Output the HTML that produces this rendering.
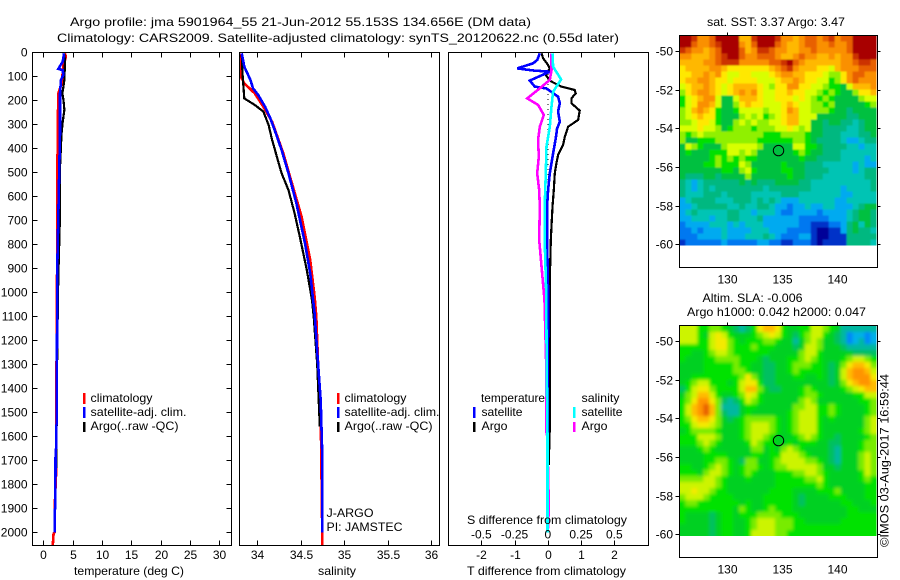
<!DOCTYPE html>
<html lang="en">
<head>
<meta charset="utf-8">
<title>Argo profile jma 5901964_55</title>
<style>
html,body{margin:0;padding:0;background:#fff;}
#figure{display:block;position:absolute;left:0;top:0;}
text{font-family:"Liberation Sans",sans-serif;font-size:12px;fill:#000;}
</style>
</head>
<body>
<svg id="figure" xmlns="http://www.w3.org/2000/svg" width="900" height="580" viewBox="0 0 900 580">
<defs>
<filter id="blur-sst" x="-10%" y="-10%" width="120%" height="120%"><feGaussianBlur stdDeviation="0.8"/></filter>
<filter id="blur-sla" x="-10%" y="-10%" width="120%" height="120%"><feGaussianBlur stdDeviation="1.6"/></filter>
<clipPath id="clip-sst"><rect x="679.5" y="35.5" width="197" height="210"/></clipPath>
<clipPath id="clip-sla"><rect x="679.5" y="326" width="197" height="210"/></clipPath>
</defs>
<text x="70" y="26" textLength="461" lengthAdjust="spacingAndGlyphs">Argo profile: jma 5901964_55 21-Jun-2012 55.153S 134.656E (DM data)</text>
<text x="57" y="42" textLength="562" lengthAdjust="spacingAndGlyphs">Climatology: CARS2009. Satellite-adjusted climatology: synTS_20120622.nc (0.55d later)</text>

<g id="panel-temp"></g>
<g id="panel-sal"></g>
<g id="panel-diff"></g>
<g id="map-sst"></g>
<g id="map-sla"></g>

<text x="74" y="575" textLength="110" lengthAdjust="spacingAndGlyphs">temperature (deg C)</text>
<text x="318" y="575" textLength="38" lengthAdjust="spacingAndGlyphs">salinity</text>
<text x="467" y="575" textLength="159" lengthAdjust="spacingAndGlyphs">T difference from climatology</text>
<text x="467" y="524" textLength="160" lengthAdjust="spacingAndGlyphs">S difference from climatology</text>

<g>
<rect x="83" y="393" width="2.5" height="11" fill="#f00"/>
<rect x="83" y="407" width="2.5" height="11" fill="#00f"/>
<rect x="83" y="422" width="2.5" height="10" fill="#000"/>
<text x="90.5" y="402" textLength="62" lengthAdjust="spacingAndGlyphs">climatology</text>
<text x="90.5" y="416" textLength="96" lengthAdjust="spacingAndGlyphs">satellite-adj. clim.</text>
<text x="90.5" y="430" textLength="88" lengthAdjust="spacingAndGlyphs">Argo(..raw -QC)</text>
</g>
<g>
<rect x="337" y="393" width="2.5" height="11" fill="#f00"/>
<rect x="337" y="407" width="2.5" height="11" fill="#00f"/>
<rect x="337" y="422" width="2.5" height="10" fill="#000"/>
<text x="344.5" y="402" textLength="62" lengthAdjust="spacingAndGlyphs">climatology</text>
<text x="344.5" y="416" textLength="95" lengthAdjust="spacingAndGlyphs">satellite-adj. clim.</text>
<text x="344.5" y="430" textLength="88" lengthAdjust="spacingAndGlyphs">Argo(..raw -QC)</text>
<text x="326.5" y="517" textLength="47" lengthAdjust="spacingAndGlyphs">J-ARGO</text>
<text x="326.5" y="531" textLength="76" lengthAdjust="spacingAndGlyphs">PI: JAMSTEC</text>
</g>
<g>
<text x="481" y="402" textLength="64" lengthAdjust="spacingAndGlyphs">temperature</text>
<rect x="473" y="407" width="2.5" height="11" fill="#00f"/>
<rect x="473" y="422" width="2.5" height="10" fill="#000"/>
<text x="481.5" y="416" textLength="41" lengthAdjust="spacingAndGlyphs">satellite</text>
<text x="481.5" y="430" textLength="26" lengthAdjust="spacingAndGlyphs">Argo</text>
<text x="581.5" y="402" textLength="38" lengthAdjust="spacingAndGlyphs">salinity</text>
<rect x="573" y="407" width="2.5" height="11" fill="#0ff"/>
<rect x="573" y="422" width="2.5" height="10" fill="#f0f"/>
<text x="581.5" y="416" textLength="41" lengthAdjust="spacingAndGlyphs">satellite</text>
<text x="581.5" y="430" textLength="26" lengthAdjust="spacingAndGlyphs">Argo</text>
</g>

<text x="707" y="26" textLength="138" lengthAdjust="spacingAndGlyphs">sat. SST: 3.37 Argo: 3.47</text>
<text x="702.5" y="302" textLength="100" lengthAdjust="spacingAndGlyphs">Altim. SLA: -0.006</text>
<text x="687" y="316" textLength="179" lengthAdjust="spacingAndGlyphs">Argo h1000: 0.042 h2000: 0.047</text>
<text transform="translate(888.5,547) rotate(-90)" textLength="173" lengthAdjust="spacingAndGlyphs">©IMOS 03-Aug-2017 16:59:44</text>
</svg>
<script>
// ---- tick values ----
const depthTicks = [0,100,200,300,400,500,600,700,800,900,1000,1100,1200,1300,1400,1500,1600,1700,1800,1900,2000];
const tempTicks = [0,5,10,15,20,25,30];
const salTicks = [34,34.5,35,35.5,36];
const tDiffTicks = [-2,-1,0,1,2];
const sDiffTicks = [-0.5,-0.25,0,0.25,0.5];
const lonTicks = [130,135,140];
const latTicks = [-50,-52,-54,-56,-58,-60];

// ---- temperature profiles (deg C) ----
const tempClimDepth = [4,18,60,130,171,338,575,893,975,1018,1400,1760,1770,1900,2000,2005,2053];
const tempClim = [3.68,3.85,3.4,3.13,2.56,2.45,2.39,2.39,2.28,2.28,2.25,2.2,2.15,1.95,1.92,1.75,1.62];
const tempArgoDepth = [4,32,115,171,200,240,290,340,480,675,893,1000,1400,1733];
const tempArgo = [3.53,3.7,3.6,3.25,3.45,3.6,3.3,3.1,2.85,2.85,2.6,2.5,2.3,2.25];
const tempSatDepth = [4,25,39,69,74,94,115,171,338,478,685,893,1018,1400,1550,1555,1650,1655,1900,1905,2000];
const tempSat = [3.53,3.41,3.3,2.56,3.3,3.41,3.02,2.85,2.85,2.73,2.56,2.39,2.39,2.28,2.28,2.2,2.2,2.1,2.05,1.96,1.96];

// ---- salinity profiles ----
const salClimDepth = [4,101,129,171,227,289,421,560,685,865,1018,1101,1300,1500,2053];
const salClim = [33.81,33.81,33.85,33.97,34.07,34.17,34.3,34.41,34.51,34.61,34.66,34.68,34.7,34.73,34.75];
const salArgoDepth = [4,88,192,219,247,303,365,428,504,574,671,768,907,1032,1101,1300,1560];
const salArgo = [33.82,33.83,33.85,33.97,34.07,34.13,34.17,34.22,34.28,34.36,34.43,34.49,34.57,34.63,34.65,34.69,34.72];
const salSatDepth = [4,60,115,150,178,227,275,324,407,504,629,796,921,1088,1300,1450,1700,2000];
const salSat = [33.82,33.85,33.92,33.95,34.01,34.09,34.15,34.2,34.28,34.36,34.45,34.55,34.61,34.66,34.7,34.73,34.75,34.75];

// ---- difference profiles ----
const dTempArgoDepth = [4,25,53,67,94,108,122,143,157,171,192,212,243,282,310,352,386,428,462,504,574,643,782,900,1000,1200,1580,1590,1720];
const dTempArgo = [-0.19,-0.14,0.01,0.06,-0.06,0.01,0.11,0.41,0.81,0.84,0.71,0.71,0.96,0.91,0.61,0.51,0.46,0.31,0.26,0.21,0.18,0.14,0.09,0.07,0.07,0.06,0.06,0.05,0.03];
const dTempSatDepth = [4,32,46,67,76,81,99,118,143,151,185,212,247,289,317,358,421,504,574,643,782,1000,1400,2000];
const dTempSat = [-0.24,-0.32,-0.44,-0.92,-0.44,0.06,-0.24,-0.54,-0.39,-0.04,0.31,0.36,0.31,0.36,0.28,0.24,0.16,0.06,0.01,-0.02,-0.02,0.01,0,0];
const dSalArgoDepth = [4,74,115,150,192,219,261,310,365,435,504,574,643,782,1032,1300,1580,1600,1850,1920,2000];
const dSalArgo = [0.028,0.028,0.015,-0.06,-0.155,-0.073,-0.03,-0.06,-0.073,-0.068,-0.08,-0.065,-0.06,-0.065,-0.025,-0.012,-0.012,-0.004,0.006,0.006,0];
const dSalSatDepth = [4,60,113,164,226,310,393,504,643,782,1000,1300,1600,2000];
const dSalSat = [0.035,0.04,0.1,0.04,0.028,0.015,-0.01,-0.015,-0.023,-0.023,-0.012,-0.008,-0.002,-0.002];
const zeroLineDepth = [90,600];
const zeroLine = [0,0];

// ---- float position ----
const floatLon = 134.656;
const floatLat = -55.153;

// ---- map colour levels: warm/high (low index) to cold/low (high index) ----
const sstColours = ['#a80000','#cc3000','#e86000','#fa9000','#ffb800','#ffe800','#d8ff00','#90f000','#00e000','#00c040','#00b880','#00c4b4','#00aaf0','#0078f0','#0030c8','#000098'];
const slaColours = ['#a80000','#cc3000','#e86000','#ff9400','#ffbc00','#f4ea00','#ccf400','#78ec00','#00e200','#00d020','#00c060','#00b8a0','#00b0e8','#0088f8','#0030c8','#000098'];
const sstGrid = [
[0,0,1,3,3,2,0,0,0,0,4,4,1,0,0,0,1,3,3,4,3,2,2,3,2,1,3,2,2,0,0,0,0],
[0,0,2,3,3,2,1,0,0,0,3,4,2,0,0,0,2,3,4,4,3,2,2,3,3,2,3,3,2,0,0,0,0],
[1,2,3,3,4,3,2,0,0,0,2,4,3,1,1,2,3,3,4,4,3,3,2,3,3,3,3,3,2,0,0,0,0],
[3,3,4,4,4,3,2,1,0,0,2,3,3,2,2,2,3,4,4,3,2,3,3,4,4,3,4,3,3,1,0,0,0],
[4,4,4,4,3,3,2,1,1,1,3,3,3,3,3,2,2,1,0,2,3,4,4,4,4,4,4,3,3,2,1,1,2],
[5,4,4,4,4,3,3,4,5,5,5,5,5,5,5,4,3,2,1,3,4,4,4,5,5,6,4,3,3,3,2,2,2],
[5,5,4,4,3,4,3,5,6,6,5,5,6,6,6,5,4,3,3,4,4,5,5,5,6,7,7,5,3,2,2,3,3],
[5,4,4,3,3,4,5,5,6,5,5,5,5,6,6,6,5,4,4,3,4,5,5,6,6,8,7,5,3,2,3,3,3],
[6,5,4,4,3,4,5,6,5,4,4,4,4,5,6,7,5,5,3,3,5,5,6,6,7,8,8,9,6,4,4,4,3],
[7,5,4,3,3,4,5,6,5,4,3,4,3,5,6,6,5,5,4,5,5,6,6,7,8,7,8,9,9,7,5,5,4],
[8,6,5,4,3,3,6,9,9,6,4,4,4,5,6,6,5,5,5,6,5,6,7,8,7,8,9,9,9,9,7,6,6],
[8,6,5,3,3,4,6,9,9,7,5,4,5,5,6,6,6,5,4,5,6,6,7,7,8,7,9,9,9,9,9,8,7],
[7,6,4,3,4,5,8,9,9,8,6,6,6,6,7,6,6,5,3,4,6,6,7,7,7,8,9,9,10,9,9,9,9],
[7,6,5,4,5,5,8,9,9,9,7,6,7,6,8,7,6,5,4,4,6,6,6,9,9,9,9,9,10,10,9,9,9],
[7,7,6,5,5,6,8,9,9,7,6,7,6,7,7,6,6,5,4,4,6,6,9,9,10,9,9,10,10,11,10,9,9],
[6,6,6,5,6,6,7,9,8,7,7,7,8,7,7,7,6,6,5,6,7,6,9,9,10,10,10,10,11,11,10,9,9],
[7,8,7,6,7,7,7,7,7,7,7,7,7,7,8,8,8,7,7,7,7,8,9,9,10,10,10,11,11,11,10,10,9],
[7,9,9,8,8,8,7,7,7,7,7,7,7,8,8,8,8,8,8,7,7,8,9,10,10,10,10,11,12,12,11,10,10],
[9,6,7,8,9,9,9,7,6,6,6,6,6,7,9,9,9,9,9,6,6,8,8,9,10,10,10,10,11,11,12,11,11],
[9,8,9,9,9,8,8,8,6,6,7,6,7,9,9,9,9,9,9,8,7,8,9,9,10,10,10,11,11,11,11,11,11],
[9,9,9,9,9,8,7,8,7,8,7,8,8,9,9,9,9,9,9,9,8,9,9,10,10,10,10,11,11,11,11,12,11],
[9,9,9,9,8,8,7,8,8,8,6,7,9,9,9,9,9,8,9,9,9,10,10,10,11,11,11,11,11,12,11,12,12],
[9,9,9,9,9,9,9,8,8,9,7,6,8,9,9,9,9,8,8,9,9,10,10,10,10,11,11,11,11,12,11,10,10],
[9,10,10,10,9,9,10,9,9,9,9,7,9,9,9,9,9,9,8,9,9,10,10,10,11,11,11,11,11,11,11,10,10],
[10,11,12,11,10,10,10,10,10,10,9,10,9,10,10,10,9,9,9,9,10,10,11,11,11,11,11,11,11,11,11,11,10],
[10,11,12,11,10,11,10,10,10,10,10,10,10,10,11,10,10,10,10,10,10,10,11,11,11,11,11,12,11,11,11,11,10],
[10,11,11,11,10,10,10,11,10,10,10,10,11,11,11,11,11,10,10,10,11,11,11,11,11,11,11,12,12,11,11,11,11],
[12,11,10,10,10,10,11,11,11,10,10,10,11,10,11,10,11,12,12,12,11,11,11,11,11,11,12,12,11,11,11,11,11],
[12,12,11,10,10,10,10,10,11,11,10,11,11,10,10,11,12,12,13,12,12,11,12,12,11,11,12,12,12,11,10,9,9],
[12,11,10,11,11,11,11,11,10,10,11,11,12,11,11,11,12,13,13,12,12,12,12,13,12,12,12,12,11,10,9,9,10],
[12,12,11,11,11,12,11,11,10,10,11,11,11,10,12,12,12,12,12,12,13,13,13,13,13,12,12,12,11,10,9,9,10],
[13,12,12,12,12,11,11,11,12,11,12,11,11,11,12,12,12,12,12,12,13,13,14,14,14,13,13,12,10,9,11,9,10],
[13,13,12,13,12,12,12,11,12,12,12,12,11,11,11,12,12,12,13,13,13,13,14,15,15,14,14,12,10,9,10,10,11],
[13,13,13,12,12,12,12,11,12,12,12,11,11,11,10,11,12,13,13,13,12,12,14,15,15,14,14,14,10,10,10,10,10],
[14,13,13,13,13,13,13,12,13,13,13,13,13,12,12,13,13,14,14,13,13,13,14,15,14,14,14,14,10,10,10,10,11]
];
const slaGrid = [
[6,6,6,8,8,7,7,8,9,10,11,10,8,5,4,4,5,8,9,9,8,8,6,6,7,8,9,11,11,11,11,11,11],
[6,6,6,8,9,6,5,6,8,9,9,9,8,7,6,5,6,8,9,10,8,7,6,6,8,9,10,11,13,12,12,13,12],
[6,6,6,8,8,6,5,5,7,8,9,8,8,8,7,7,8,9,9,11,9,7,6,7,9,9,10,11,13,12,11,13,12],
[8,8,8,8,8,6,5,5,7,8,8,8,7,8,8,8,9,9,9,10,9,6,6,7,9,9,9,10,11,11,11,11,11],
[8,8,9,9,8,7,6,6,7,8,8,8,8,8,8,9,9,9,9,9,7,6,6,8,9,9,9,9,9,10,10,10,10],
[8,9,9,9,8,8,7,7,7,7,8,8,8,9,10,9,9,9,8,8,7,6,7,8,9,9,9,8,7,6,6,7,8],
[9,9,9,9,8,8,8,8,8,7,8,8,9,9,10,10,9,9,8,7,7,7,8,8,9,10,9,7,5,4,4,5,7],
[9,9,9,9,8,8,8,8,8,7,7,8,9,9,10,10,9,9,8,7,8,8,8,8,9,10,9,6,4,3,3,4,6],
[9,9,8,8,8,8,8,8,8,8,7,5,7,9,10,10,9,9,9,8,8,9,9,8,9,10,9,6,4,3,3,3,5],
[9,8,7,6,6,8,8,8,9,8,6,5,5,8,10,10,9,9,9,9,9,9,9,9,9,10,9,7,5,4,3,3,4],
[10,8,6,5,5,7,8,8,8,8,6,4,4,7,9,10,10,9,9,9,8,7,8,9,9,9,9,8,7,6,5,4,4],
[9,7,6,4,4,6,8,9,9,8,7,5,6,8,9,9,9,9,9,9,8,7,7,8,9,9,9,9,9,8,8,6,6],
[8,7,5,3,3,5,7,10,11,10,8,6,7,8,9,9,9,9,9,9,7,6,7,9,9,9,9,9,9,9,8,8,7],
[8,6,4,3,2,4,7,11,11,11,9,8,8,9,9,9,9,9,9,7,7,6,6,8,8,7,8,9,9,9,9,8,7],
[8,6,4,3,2,4,7,10,11,11,9,8,9,9,9,9,9,9,8,7,6,6,6,8,8,7,8,9,9,9,9,8,7],
[8,7,5,4,4,5,7,9,10,9,8,7,7,7,7,7,8,9,8,7,6,6,6,8,9,8,9,9,9,9,9,7,6],
[8,8,6,5,5,6,7,9,9,9,8,7,6,6,6,7,8,9,8,7,6,6,6,8,9,9,9,9,9,9,9,7,6],
[9,8,7,7,7,7,8,9,9,9,8,7,6,6,6,7,8,9,8,7,6,6,6,8,9,9,9,9,9,9,8,7,6],
[8,8,8,6,6,6,7,9,9,9,8,7,6,6,7,8,9,9,9,8,7,6,7,8,9,9,10,9,9,9,9,8,7],
[8,8,8,7,6,7,8,9,9,9,9,8,6,7,8,8,9,9,8,9,8,8,8,9,9,10,10,9,9,9,8,7,7],
[9,9,9,8,7,8,9,9,9,9,9,9,7,7,9,8,9,7,6,7,8,9,9,9,9,10,11,9,9,9,8,7,7],
[9,9,9,9,8,8,8,8,9,9,9,9,8,8,9,8,8,6,6,6,7,8,9,9,9,10,11,9,9,9,7,6,7],
[9,9,9,9,8,8,7,7,8,9,10,7,7,9,9,8,7,6,6,6,6,7,7,8,9,10,11,9,9,9,7,6,7],
[8,8,9,9,8,7,6,7,8,9,8,7,7,8,9,8,7,7,6,6,6,6,6,7,9,9,10,9,9,9,7,6,7],
[8,8,8,9,7,6,6,7,8,9,8,7,8,9,9,9,8,8,8,7,7,6,6,7,8,9,9,9,9,9,8,6,7],
[7,7,7,7,6,6,7,8,9,9,9,8,9,9,9,9,8,8,8,8,8,7,7,6,8,9,9,9,9,9,8,7,8],
[6,6,6,6,6,6,7,8,9,9,9,9,9,9,9,9,8,8,8,8,8,8,8,7,8,9,9,9,9,9,9,8,8],
[6,6,5,6,6,7,8,8,9,9,9,9,9,9,9,8,8,8,8,9,9,9,9,8,8,8,7,9,9,9,9,8,8],
[7,6,6,6,7,8,8,8,8,9,9,9,9,9,8,8,8,8,8,9,10,9,9,9,9,8,8,8,9,9,9,8,8],
[8,7,7,8,8,8,8,8,8,8,9,8,9,9,8,8,8,8,8,9,10,9,9,9,9,9,9,8,8,9,9,9,8],
[8,8,8,8,8,8,8,8,8,9,7,8,9,9,8,7,8,8,8,9,9,9,9,9,9,9,9,9,8,8,9,9,9],
[8,9,9,9,9,10,9,8,8,9,8,8,8,7,7,7,7,8,8,8,9,9,9,9,9,9,9,9,8,8,8,8,8],
[8,9,9,9,9,10,9,8,8,9,9,8,7,6,6,6,7,7,7,8,8,9,9,9,9,9,9,8,8,8,8,8,8],
[9,9,9,9,9,10,9,8,8,9,9,8,7,6,6,6,7,7,7,8,8,8,8,8,8,8,8,8,8,8,8,8,8],
[9,9,9,9,9,10,9,8,8,9,9,8,6,6,6,6,7,7,8,8,8,8,8,8,8,8,8,8,8,8,8,8,8]
];

// ---- helpers ----
const NS = 'http://www.w3.org/2000/svg';
function make(parent, tag, props) {
  const node = document.createElementNS(NS, tag);
  for (const key in props) node.setAttribute(key, props[key]);
  parent.appendChild(node);
  return node;
}
function tickLine(parent, x1, y1, x2, y2) {
  const t = make(parent, 'line', {x1: x1, y1: y1, x2: x2, y2: y2, stroke: '#000', 'stroke-width': 1, 'shape-rendering': 'crispEdges'});
  
  
  return t;
}
function label(parent, x, y, anchor, str) {
  const t = make(parent, 'text', {x: x, y: y, 'text-anchor': anchor});
  t.textContent = str;
  
  
  return t;
}
function frame(parent, x0, y0, x1, y1) {
  const r = make(parent, 'rect', {x: x0, y: y0, width: x1 - x0, height: y1 - y0, fill: 'none', stroke: '#000', 'stroke-width': 1, 'shape-rendering': 'crispEdges'});
  
  
  return r;
}
function series(parent, depths, values, xFn, colour, name, dash) {
  const pts = depths.map(function (d, i) { return xFn(values[i]).toFixed(1) + ',' + yDepth(d).toFixed(1); }).join(' ');
  const width = dash ? 1 : (colour === '#000' ? 2.2 : 2.6);
  const p = make(parent, 'polyline', {points: pts, fill: 'none', stroke: colour, 'stroke-width': width, 'stroke-linejoin': 'miter', 'shape-rendering': 'crispEdges'});
  if (dash) p.setAttribute('stroke-dasharray', dash);
  
  
  return p;
}

// ---- profile axes ----
const plotTop = 52.5, plotBottom = 545.5;
const yDepth = function (d) { return 52.3 + d * 0.24; };
const xTemp = function (v) { return 43.3 + v * 5.867; };
const xSal = function (v) { return 257.3 + (v - 34) * 86.8; };
const xDT = function (v) { return 547.8 + v * 33.25; };
const xDS = function (v) { return 547.8 + v * 133; };

// temperature panel
const gT = document.getElementById('panel-temp');
series(gT, tempClimDepth, tempClim, xTemp, '#f00', 'temperature-climatology-line');
series(gT, tempArgoDepth, tempArgo, xTemp, '#000', 'temperature-argo-line');
series(gT, tempSatDepth, tempSat, xTemp, '#00f', 'temperature-satellite-line');
frame(gT, 32.5, plotTop, 231.5, plotBottom);
depthTicks.forEach(function (d) {
  const y = Math.round(yDepth(d)) + 0.5;
  tickLine(gT, 32.5, y, 37.5, y);
  tickLine(gT, 226.5, y, 231.5, y);
  label(gT, 27.5, y + 4, 'end', String(d));
});
tempTicks.forEach(function (v) {
  const x = Math.round(xTemp(v)) + 0.5;
  tickLine(gT, x, plotTop, x, plotTop + 5);
  tickLine(gT, x, plotBottom - 5, x, plotBottom);
  label(gT, x, 559, 'middle', String(v));
});

// salinity panel
const gS = document.getElementById('panel-sal');
series(gS, salClimDepth, salClim, xSal, '#f00', 'salinity-climatology-line');
series(gS, salArgoDepth, salArgo, xSal, '#000', 'salinity-argo-line');
series(gS, salSatDepth, salSat, xSal, '#00f', 'salinity-satellite-line');
frame(gS, 239.5, plotTop, 439.5, plotBottom);
salTicks.forEach(function (v) {
  const x = Math.round(xSal(v)) + 0.5;
  tickLine(gS, x, plotTop, x, plotTop + 5);
  tickLine(gS, x, plotBottom - 5, x, plotBottom);
  label(gS, x, 559, 'middle', String(v));
});

// difference panel
const gD = document.getElementById('panel-diff');
series(gD, zeroLineDepth, zeroLine, xDT, '#000', 'zero-difference-line', '1 4');
series(gD, dTempArgoDepth, dTempArgo, xDT, '#000', 't-difference-argo-line');
series(gD, dTempSatDepth, dTempSat, xDT, '#00f', 't-difference-satellite-line');
series(gD, dSalArgoDepth, dSalArgo, xDS, '#f0f', 's-difference-argo-line');
series(gD, dSalSatDepth, dSalSat, xDS, '#0ff', 's-difference-satellite-line');
frame(gD, 448.5, plotTop, 648.5, plotBottom);
tDiffTicks.forEach(function (v) {
  const x = Math.round(xDT(v)) + 0.5;
  tickLine(gD, x, plotTop, x, plotTop + 5);
  tickLine(gD, x, plotBottom - 5, x, plotBottom);
  label(gD, x, 559, 'middle', String(v));
});
sDiffTicks.forEach(function (v) {
  label(gD, xDS(v), 538.5, 'middle', String(v));
});

// ---- maps ----
const xLon = function (lon) { return 727.3 + (lon - 130) * 11; };
function drawMap(groupId, grid, colours, lat50y, top, bottom, gridTop, filterId, clipId, cellName) {
  const g = document.getElementById(groupId);
  const yLat = function (lat) { return lat50y + (-50 - lat) * 19.33; };
  const clipG = make(g, 'g', {'clip-path': 'url(#' + clipId + ')'});
  const blurG = make(clipG, 'g', {filter: 'url(#' + filterId + ')'});
  const nCols = grid[0].length, nRows = grid.length;
  const lonStart = 125.65, lonStep = 197 / nCols / 11;
  const latStart = -50 + (lat50y - gridTop) / 19.33, latStep = 210 / nRows / 19.33;
  grid.forEach(function (row, j) {
    row.forEach(function (level, i) {
      let x = xLon(lonStart + i * lonStep), w = lonStep * 11 + 0.6;
      let y = yLat(latStart - j * latStep), h = latStep * 19.33 + 0.6;
      if (i === 0) { x -= 8; w += 8; }
      if (i === row.length - 1) { w += 8; }
      if (j === 0) { y -= 8; h += 8; }
      if (j === nRows - 1) { h += 8; }
      const c = make(blurG, 'rect', {x: x.toFixed(2), y: y.toFixed(2), width: w.toFixed(2), height: h.toFixed(2), fill: colours[level]});
      
      
    });
  });
  frame(g, 679.5, top, 877.5, bottom);
  lonTicks.forEach(function (lon) {
    const x = Math.round(xLon(lon)) + 0.5;
    tickLine(g, x, top - 3, x, top);
    label(g, x, bottom + 16, 'middle', String(lon));
  });
  latTicks.forEach(function (lat) {
    const y = Math.round(yLat(lat)) + 0.5;
    tickLine(g, 675.5, y, 679.5, y);
    tickLine(g, 877.5, y, 880.5, y);
    label(g, 673, y + 4, 'end', String(lat));
  });
  const m = make(g, 'circle', {cx: xLon(floatLon), cy: yLat(floatLat), r: 5.2, fill: 'none', stroke: '#000', 'stroke-width': 1});
  
  
}
drawMap('map-sst', sstGrid, sstColours, 51, 35.5, 267.5, 35.5, 'blur-sst', 'clip-sst', 'sst-cell');
drawMap('map-sla', slaGrid, slaColours, 341, 325.5, 557.5, 326, 'blur-sla', 'clip-sla', 'sla-cell');
</script>
</body>
</html>
